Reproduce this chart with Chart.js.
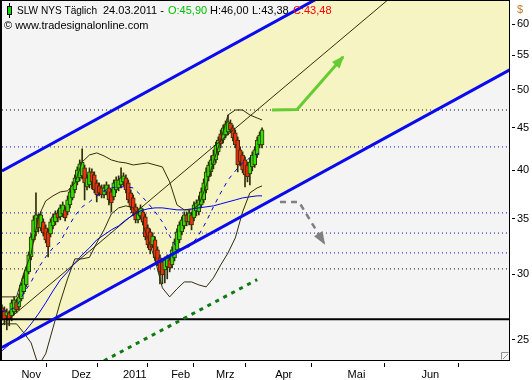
<!DOCTYPE html>
<html>
<head>
<meta charset="utf-8">
<title>SLW NYS Täglich</title>
<script src="https://cdn.jsdelivr.net/npm/chart.js@4.4.1/dist/chart.umd.min.js"></script>
<style>
  html, body { margin: 0; padding: 0; background: #fff; }
  canvas { display: block; }
</style>
</head>
<body>
<canvas id="chart" width="532" height="380"></canvas>
<script>
// daily bars 20.10.2010 .. 24.03.2011, bar 0 = 1 Nov 2010
const firstBar = -8;
const opens = [
  27.32, 27.17, 26.72, 26.95, 26.72, 27.02, 27.78, 27.40,
  28.02, 28.57, 29.12, 30.19, 31.47, 32.99, 33.73, 35.06, 34.10, 34.68,
  34.10, 33.73, 33.55, 34.30, 34.68, 35.55, 35.16, 35.45, 35.85, 35.65,
  36.35, 37.06, 37.89, 38.74, 39.17, 39.39, 40.27, 38.21, 38.42, 39.83,
  39.50, 38.63, 38.31, 38.10, 37.37, 37.68, 38.10, 37.68, 37.17, 37.89,
  38.10, 38.42, 38.74, 39.17, 38.63, 37.58, 37.06, 36.15, 34.87, 35.26,
  35.65, 35.16, 34.10, 33.73, 32.54, 32.99, 32.09, 31.39, 31.04, 30.36,
  30.61, 31.21, 30.78, 31.39, 32.09, 32.99, 33.73, 34.30, 35.35, 34.68,
  35.35, 35.06, 35.75, 35.65, 36.35, 36.85, 37.89, 39.28, 39.83, 40.60,
  41.17, 42.10, 44.25, 43.51, 44.12, 44.49, 45.61, 44.99, 44.37, 43.51,
  42.33, 41.74, 41.17, 40.60, 39.61, 40.38, 40.60, 41.74, 42.91, 42.91
];
const highs = [
  27.55, 27.40, 27.25, 27.10, 27.94, 28.17, 28.02, 28.41,
  29.28, 29.94, 30.61, 31.91, 33.54, 35.26, 37.58, 35.45, 35.65, 34.97,
  34.39, 34.01, 34.97, 35.45, 35.75, 35.85, 36.35, 36.65, 36.15, 37.27,
  38.00, 38.74, 39.50, 40.38, 41.17, 42.45, 40.60, 39.50, 40.27, 40.16,
  39.83, 38.95, 38.63, 38.42, 38.42, 38.74, 38.42, 38.00, 38.95, 39.28,
  39.39, 40.27, 39.72, 39.50, 38.95, 37.89, 37.37, 36.45, 35.85, 36.35,
  35.95, 35.45, 34.39, 34.01, 33.64, 33.26, 32.36, 31.65, 31.30, 31.47,
  31.65, 31.47, 32.36, 33.08, 34.01, 34.68, 35.16, 35.65, 35.65, 35.85,
  35.65, 36.65, 36.85, 37.27, 38.10, 39.06, 40.27, 40.94, 41.63, 42.33,
  43.27, 43.88, 44.74, 45.36, 45.86, 46.63, 45.99, 45.36, 44.74, 43.88,
  42.69, 42.10, 41.52, 40.94, 41.40, 42.10, 42.69, 43.88, 44.49, 44.99
];
const lows = [
  26.43, 26.07, 25.71, 26.00, 26.36, 26.80, 26.95, 27.17,
  27.86, 28.41, 28.96, 30.02, 31.21, 32.81, 33.35, 33.73, 33.82, 33.35,
  32.72, 31.47, 33.26, 34.01, 34.39, 34.68, 34.87, 35.16, 34.78, 35.35,
  36.05, 36.85, 37.58, 38.42, 38.84, 39.06, 36.85, 37.89, 38.10, 38.00,
  37.58, 36.65, 37.27, 37.06, 37.06, 37.37, 36.35, 35.65, 36.85, 37.58,
  37.79, 38.10, 38.31, 37.58, 36.55, 35.85, 35.26, 34.58, 34.58, 34.97,
  34.39, 32.99, 32.27, 31.74, 32.27, 31.12, 30.70, 29.20, 29.20, 29.28,
  29.61, 30.19, 30.53, 31.12, 31.82, 32.72, 33.45, 34.01, 34.30, 34.39,
  33.92, 34.78, 35.26, 35.35, 36.05, 36.55, 37.58, 38.84, 39.39, 40.16,
  40.83, 41.74, 42.57, 43.15, 43.76, 44.12, 44.37, 43.39, 42.57, 39.83,
  40.49, 39.72, 38.21, 38.74, 38.42, 39.94, 40.33, 41.45, 42.57, 42.57
];
const closes = [
  26.65, 26.43, 27.02, 26.43, 27.70, 27.94, 27.17, 28.17,
  29.12, 29.70, 30.36, 31.65, 33.26, 34.87, 35.35, 34.10, 35.35, 33.64,
  32.99, 32.36, 34.68, 35.16, 35.45, 35.06, 36.05, 36.35, 35.06, 36.85,
  37.68, 38.42, 39.17, 40.05, 40.72, 40.94, 38.63, 39.17, 39.83, 38.74,
  37.89, 37.37, 37.58, 37.37, 38.10, 38.42, 36.85, 36.55, 38.63, 38.95,
  38.95, 39.17, 39.39, 37.89, 36.85, 36.15, 35.55, 34.87, 35.55, 36.05,
  34.68, 33.26, 32.54, 32.09, 33.35, 31.39, 30.95, 30.19, 29.94, 31.21,
  31.39, 30.53, 32.09, 32.81, 33.73, 34.39, 34.87, 35.35, 34.68, 35.55,
  34.39, 36.35, 36.55, 36.85, 37.68, 38.63, 39.83, 40.60, 41.17, 41.74,
  42.91, 43.51, 43.03, 44.99, 45.49, 45.74, 44.74, 43.76, 42.91, 40.60,
  40.94, 40.05, 39.50, 39.28, 40.94, 41.74, 42.33, 43.51, 44.12, 44.74
];

// indicator lines, read at these bars
const bandBars = [-8, -5, -2, 1, 4, 7, 10, 13, 16, 19, 22, 25, 28, 31, 34, 37, 40, 43, 46,
  49, 52, 55, 58, 61, 64, 67, 70, 73, 76, 79, 82, 85, 88, 91, 94, 97, 99];
const bbUpper = [28.17, 28.17, 28.17, 30.11, 31.74, 35.16, 36.75, 37.27, 37.68, 37.79, 38.63,
  40.94, 41.74, 41.98, 41.63, 41.17, 40.94, 40.83, 40.60, 40.72, 40.83, 40.60, 40.38, 38.74,
  36.35, 35.85, 35.85, 36.35, 38.31, 40.94, 43.51, 46.63, 47.28, 47.28, 46.63, 46.24, 45.99];
const bbLower = [26.14, 26.14, 26.14, 25.50, 24.80, 23.28, 24.06, 25.85, 27.78, 29.61, 31.30,
  31.30, 31.43, 32.72, 33.92, 35.45, 36.05, 36.25, 36.05, 35.06, 33.17, 31.21, 28.88, 28.17,
  28.80, 29.36, 29.36, 29.12, 28.96, 29.69, 30.78, 31.82, 33.17, 35.65, 37.58, 38.10, 38.31];
const bbMiddle = [27.02, 27.17, 27.40, 28.49, 29.36, 30.53, 31.47, 32.27, 32.81, 34.10, 35.26,
  36.15, 36.65, 37.27, 37.79, 38.10, 38.21, 38.21, 38.10, 37.37, 36.55, 35.65, 34.68, 33.36,
  32.27, 32.09, 32.54, 33.45, 34.68, 36.15, 37.58, 38.95, 39.94, 40.83, 41.40, 41.86, 42.10];
const maLine = [24.26, 24.67, 25.08, 25.50, 26.14, 26.87, 27.71, 28.64, 29.53, 30.19, 30.95,
  31.65, 32.27, 32.99, 33.45, 33.92, 34.30, 34.87, 35.35, 35.75, 35.95, 36.05, 36.05, 35.95,
  35.85, 35.85, 35.95, 36.05, 36.15, 36.25, 36.45, 36.65, 36.85, 37.06, 37.17, 37.27, 37.27];

// drawn tools
const spanBars = [-8, 201];
const chanUpper = [39.93, 86.2];
const chanLower = [24.49, 52.86];
const blackLevels = [47.28, 30.44];
const blueLevels = [42.68, 35.55, 33.62, 31.82];
const baseLevel = 26.47;
const trendBars = [-8, 160];
const trendPrices = [26.07, 67.6];
const projBars = [34, 97];
const projPrices = [23.6, 29.55];
const upBars = [103.1, 113.4, 132.3];
const upPrices = [47.28, 47.35, 54.76];
const downBars = [106.4, 114.2, 124.5];
const downPrices = [36.65, 36.65, 32.71];

// axes
const monthTicks = [0, 20.6, 41.8, 61.6, 80.1, 104.4, 134.2, 164.6];
const monthLabels = ['Nov', 'Dez', '2011', 'Feb', 'Mrz', 'Apr', 'Mai', 'Jun'];
const priceTicks = [25, 30, 35, 40, 45, 50, 55, 60];

const FONT = '"Liberation Sans", Arial, sans-serif';
Chart.defaults.font.family = FONT;
Chart.defaults.font.size = 11;
Chart.defaults.color = '#000';

const pts = (xs, ys) => xs.map((x, k) => ({ x: x, y: ys[k] }));
const line = (data, color, width, dash, order, extra) => Object.assign({
  type: 'line', data: data, borderColor: color, borderWidth: width, borderDash: dash || [],
  pointRadius: 0, fill: false, tension: 0, order: order
}, extra || {});

const bars = opens.map((o, k) => k);
const datasets = [
  line(pts(spanBars, chanUpper), 'rgba(0,0,0,0)', 0, [], 100),
  line(pts(spanBars, chanLower), 'rgba(0,0,0,0)', 0, [], 99, { fill: '-1', backgroundColor: '#f7f4c4' })
];
blackLevels.forEach(v => datasets.push(line(pts(spanBars, [v, v]), '#000', 1, [1, 3], 90)));
blueLevels.forEach(v => datasets.push(line(pts(spanBars, [v, v]), '#0000d0', 1, [1, 3], 90)));

datasets.push({
  type: 'bar', order: 30, grouped: false, barThickness: 1,
  data: bars.map(k => ({ x: k + firstBar, y: [lows[k], highs[k]] })),
  backgroundColor: '#2e2e08'
});
datasets.push({
  type: 'bar', order: 20, grouped: false, barThickness: 4,
  data: bars.map(k => ({ x: k + firstBar, y: [opens[k], closes[k]] })),
  backgroundColor: bars.map(k => closes[k] >= opens[k] ? '#33e000' : '#f03010'),
  borderColor: '#2e2e08', borderWidth: 1, borderSkipped: false
});

datasets.push(line(pts(bandBars, bbUpper), '#2e2e08', 1, [], 10));
datasets.push(line(pts(bandBars, bbLower), '#2e2e08', 1, [], 10));
datasets.push(line(pts(bandBars, bbMiddle), '#0000e0', 1, [4, 5], 10));
datasets.push(line(pts(bandBars, maLine), '#0000ff', 1, [], 10));
datasets.push(line(pts(trendBars, trendPrices), '#2e2e08', 1, [], 10));
datasets.push(line(pts(spanBars, [baseLevel, baseLevel]), '#000', 2, [], 5));
datasets.push(line(pts(spanBars, chanUpper), '#0a0af0', 3, [], 3));
datasets.push(line(pts(spanBars, chanLower), '#0a0af0', 3, [], 3));
datasets.push(line(pts(projBars, projPrices), '#0f7a0f', 3, [4, 5], 2));
datasets.push(line(pts(upBars, upPrices), '#66cc33', 3, [], 1, { head: '#66cc33' }));
datasets.push(line(pts(downBars, downPrices), '#808080', 2.5, [6, 5], 1, { head: '#808080' }));

function drawHead(ctx, from, to, color) {
  const a = Math.atan2(to.y - from.y, to.x - from.x);
  const len = 11, half = 5;
  const bx = to.x - len * Math.cos(a), by = to.y - len * Math.sin(a);
  ctx.save();
  ctx.fillStyle = color;
  ctx.beginPath();
  ctx.moveTo(to.x + 2 * Math.cos(a), to.y + 2 * Math.sin(a));
  ctx.lineTo(bx + half * Math.sin(a), by - half * Math.cos(a));
  ctx.lineTo(bx - half * Math.sin(a), by + half * Math.cos(a));
  ctx.closePath();
  ctx.fill();
  ctx.restore();
}

const decor = {
  id: 'decor',
  beforeDraw(c) {
    const ctx = c.ctx, a = c.chartArea;
    ctx.save();
    ctx.fillStyle = '#fff';
    ctx.fillRect(0, 0, c.width, c.height);
    ctx.fillStyle = '#f4f4f4';
    ctx.fillRect(a.left, a.top, a.right - a.left, a.bottom - a.top);
    ctx.restore();
  },
  afterDatasetsDraw(c) {
    c.data.datasets.forEach((ds, i) => {
      if (!ds.head) return;
      const el = c.getDatasetMeta(i).data;
      const n = el.length;
      drawHead(c.ctx, el[n - 2], el[n - 1], ds.head);
    });
  },
  afterDraw(c) {
    const ctx = c.ctx, a = c.chartArea;
    ctx.save();
    // frame
    ctx.fillStyle = '#000';
    ctx.fillRect(0, 0, 2, a.bottom + 1);
    ctx.fillRect(0, 0, a.right + 1, 1);
    ctx.fillRect(a.right, 0, 1, a.bottom + 1);
    ctx.fillRect(0, a.bottom, a.right + 1, 1);
    // resize corner
    ctx.strokeStyle = '#909090';
    ctx.lineWidth = 1;
    ctx.beginPath();
    ctx.moveTo(a.right - 7.5, a.bottom - 0.5); ctx.lineTo(a.right - 7.5, a.bottom - 7.5);
    ctx.lineTo(a.right - 0.5, a.bottom - 7.5);
    ctx.moveTo(a.right - 6, a.bottom - 1); ctx.lineTo(a.right - 1, a.bottom - 6);
    ctx.stroke();
    // title
    ctx.fillStyle = '#000';
    ctx.fillRect(9, 3, 1, 15);
    ctx.fillRect(7, 6, 5, 9);
    ctx.fillStyle = '#00e000';
    ctx.fillRect(8, 7, 3, 7);
    ctx.font = '11px ' + FONT;
    ctx.textBaseline = 'alphabetic';
    const parts = [
      [17, 'SLW NYS Täglich', '#000', 80],
      [103, '24.03.2011 -', '#000'],
      [168, 'O:45,90', '#00c000'],
      [210, 'H:46,00', '#000'],
      [252, 'L:43,38', '#000'],
      [293, 'C:43,48', '#ff0000']
    ];
    parts.forEach(p => {
      ctx.fillStyle = p[2];
      if (p[3]) ctx.fillText(p[1], p[0], 14, p[3]); else ctx.fillText(p[1], p[0], 14);
    });
    ctx.fillStyle = '#000';
    ctx.fillText('\u00a9 www.tradesignalonline.com', 4, 29);
    ctx.fillStyle = '#c8782c';
    ctx.fillText('$', 517, 13);
    ctx.restore();
  }
};

new Chart(document.getElementById('chart'), {
  type: 'bar',
  data: { datasets: datasets },
  plugins: [decor],
  options: {
    responsive: false,
    animation: false,
    devicePixelRatio: 1,
    layout: { padding: { left: 2, top: 1, right: 0, bottom: 0 } },
    plugins: { legend: { display: false }, tooltip: { enabled: false } },
    scales: {
      x: {
        type: 'linear', min: -7.98, max: 200.6, offset: false,
        afterBuildTicks: s => { s.ticks = monthTicks.map(v => ({ value: v })); },
        afterFit: s => { s.height = 20; s.paddingLeft = 0; s.paddingRight = 0; },
        ticks: {
          autoSkip: false, maxRotation: 0, align: 'start', padding: 1,
          callback: (v, i) => monthLabels[i]
        },
        grid: { drawOnChartArea: false, tickLength: 7, tickColor: '#000', tickBorderDash: [0, 3, 4, 100] },
        border: { display: false }
      },
      y: {
        type: 'logarithmic', position: 'right', min: 23.65, max: 63.95,
        afterBuildTicks: s => { s.ticks = priceTicks.map(v => ({ value: v })); },
        afterFit: s => { s.width = 23; s.paddingTop = 0; s.paddingBottom = 0; },
        ticks: { autoSkip: false, padding: 2, callback: v => String(v) },
        grid: { drawOnChartArea: false, tickLength: 6, tickColor: '#000', tickBorderDash: [0, 3, 3, 100] },
        border: { display: false }
      }
    }
  }
});
</script>
</body>
</html>
